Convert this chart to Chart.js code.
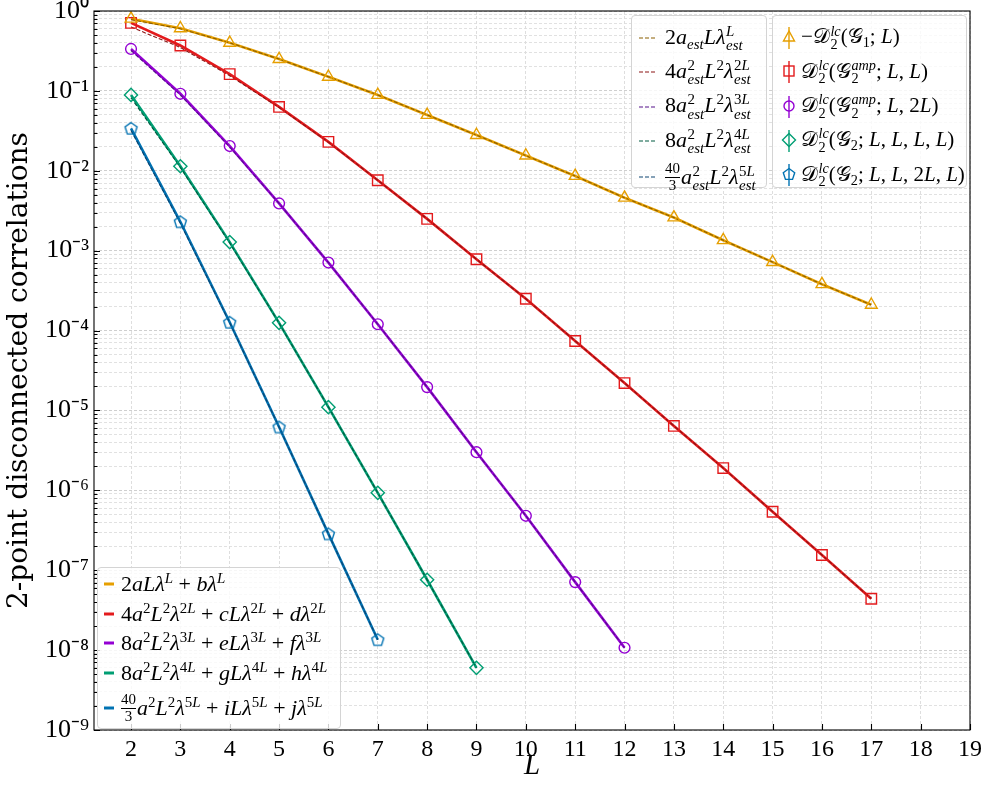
<!DOCTYPE html>
<html><head><meta charset="utf-8">
<script src="https://cdn.jsdelivr.net/npm/chart.js@4.4.0/dist/chart.umd.min.js"></script>
<style>
html,body{margin:0;padding:0;background:#fff;}
#wrap{position:relative;width:982px;height:787px;overflow:hidden;}
#c{position:absolute;left:0;top:0;}
.lg{position:absolute;background:rgba(255,255,255,0.8);border:1px solid #d4d4d4;border-radius:4px;box-sizing:border-box;font-family:'Liberation Serif','DejaVu Serif',serif;color:#000;font-size:22px;}
.lg.b{font-size:21px;}
.row{position:absolute;left:0;right:0;display:flex;align-items:center;white-space:nowrap;}
.hd{flex:none;display:inline-block;}
i{font-style:italic;}
.ss{display:inline-flex;flex-direction:column;font-size:0.68em;line-height:0.95;vertical-align:0.55em;margin-left:0.04em;}
.sp{font-size:0.68em;vertical-align:0.55em;line-height:0;}
.sb{font-size:0.68em;vertical-align:-0.3em;line-height:0;}
.fr{display:inline-flex;flex-direction:column;font-size:0.68em;line-height:1.05;vertical-align:0.72em;text-align:center;margin-right:1px;}
.fr span:first-child{border-bottom:1px solid #000;}
</style>
</head><body>
<div id="wrap"><canvas id="c" width="982" height="787"></canvas></div>
<script>
// ---------------- data ----------------
const L_G1    = [2,3,4,5,6,7,8,9,10,11,12,13,14,15,16,17];
const val_G1  = [0.80,0.607,0.40,0.25,0.15,0.089,0.050,0.028,0.0155,0.0086,0.0046,0.0026,0.00135,0.00072,0.00038,0.00021];
const est_G1  = [0.78,0.60,0.40,0.25,0.15,0.089,0.050,0.028,0.0155,0.0086,0.0046,0.0026,0.00135,0.00072,0.00038,0.00021];

const L_amp   = [2,3,4,5,6,7,8,9,10,11,12,13,14,15,16,17];
const val_amp = [0.71,0.37,0.162,0.063,0.023,0.0076,0.0025,0.00078,0.00025,7.4e-5,2.2e-5,6.4e-6,1.9e-6,5.4e-7,1.55e-7,4.4e-8];
const est_amp = [0.63,0.35,0.155,0.062,0.0228,0.0076,0.0025,0.00078,0.00025,7.4e-5,2.2e-5,6.4e-6,1.9e-6,5.4e-7,1.55e-7,4.4e-8];

const L_amp2   = [2,3,4,5,6,7,8,9,10,11,12];
const val_amp2 = [0.335,0.092,0.0204,0.0039,7.1e-4,1.2e-4,1.96e-5,3.0e-6,4.8e-7,7.1e-8,1.07e-8];
const est_amp2 = [0.32,0.089,0.0198,0.0039,7.1e-4,1.2e-4,1.96e-5,3.0e-6,4.8e-7,7.1e-8,1.07e-8];

const L_g4   = [2,3,4,5,6,7,8,9];
const val_g4 = [0.089,0.0114,0.00128,1.25e-4,1.1e-5,9.3e-7,7.6e-8,6.0e-9];
const est_g4 = [0.082,0.0110,0.00125,1.24e-4,1.1e-5,9.3e-7,7.6e-8,6.0e-9];

const L_g5   = [2,3,4,5,6,7];
const val_g5 = [0.034,0.0023,1.27e-4,6.2e-6,2.85e-7,1.35e-8];
const est_g5 = [0.032,0.0022,1.25e-4,6.2e-6,2.85e-7,1.35e-8];

const xTickValues = [2,3,4,5,6,7,8,9,10,11,12,13,14,15,16,17,18,19];
const yTickLabels = ['10⁰','10⁻¹','10⁻²','10⁻³','10⁻⁴','10⁻⁵','10⁻⁶','10⁻⁷','10⁻⁸','10⁻⁹'];
const yTitle = '2-point disconnected correlations';
const xTitle = 'L';

const seriesColors = ['#E69F00','#E31A1C','#9400D3','#009E73','#0072B2'];
const estColors    = ['#8a5e00','#8b1515','#55108a','#005a40','#0d4470'];

// legend labels
const CD='𝒟', CG='𝒢';
const I=s=>'<i>'+s+'</i>';
const ss=(a,b)=>'<span class="ss"><span>'+a+'</span><span>'+b+'</span></span>';
const sp=a=>'<span class="sp">'+a+'</span>';
const sb=a=>'<span class="sb">'+a+'</span>';
const fr=(a,b)=>'<span class="fr"><span>'+a+'</span><span>'+b+'</span></span>';
const est=I('est');
const estLabels = [
  '2'+I('a')+sb(est)+I('L')+I('λ')+ss(I('L'),est),
  '4'+I('a')+ss('2',est)+I('L')+sp('2')+I('λ')+ss('2'+I('L'),est),
  '8'+I('a')+ss('2',est)+I('L')+sp('2')+I('λ')+ss('3'+I('L'),est),
  '8'+I('a')+ss('2',est)+I('L')+sp('2')+I('λ')+ss('4'+I('L'),est),
  fr('40','3')+I('a')+ss('2',est)+I('L')+sp('2')+I('λ')+ss('5'+I('L'),est)
];
const markerLabels = [
  '−'+CD+ss(I('lc'),'2')+'('+CG+sb('1')+'; '+I('L')+')',
  CD+ss(I('lc'),'2')+'('+CG+ss(I('amp'),'2')+'; '+I('L')+', '+I('L')+')',
  CD+ss(I('lc'),'2')+'('+CG+ss(I('amp'),'2')+'; '+I('L')+', 2'+I('L')+')',
  CD+ss(I('lc'),'2')+'('+CG+sb('2')+'; '+I('L')+', '+I('L')+', '+I('L')+', '+I('L')+')',
  CD+ss(I('lc'),'2')+'('+CG+sb('2')+'; '+I('L')+', '+I('L')+', 2'+I('L')+', '+I('L')+')'
];
const fitLabels = [
  '2'+I('aL')+I('λ')+sp(I('L'))+' + '+I('b')+I('λ')+sp(I('L')),
  '4'+I('a')+sp('2')+I('L')+sp('2')+I('λ')+sp('2'+I('L'))+' + '+I('cL')+I('λ')+sp('2'+I('L'))+' + '+I('d')+I('λ')+sp('2'+I('L')),
  '8'+I('a')+sp('2')+I('L')+sp('2')+I('λ')+sp('3'+I('L'))+' + '+I('eL')+I('λ')+sp('3'+I('L'))+' + '+I('f')+I('λ')+sp('3'+I('L')),
  '8'+I('a')+sp('2')+I('L')+sp('2')+I('λ')+sp('4'+I('L'))+' + '+I('gL')+I('λ')+sp('4'+I('L'))+' + '+I('h')+I('λ')+sp('4'+I('L')),
  fr('40','3')+I('a')+sp('2')+I('L')+sp('2')+I('λ')+sp('5'+I('L'))+' + '+I('iL')+I('λ')+sp('5'+I('L'))+' + '+I('j')+I('λ')+sp('5'+I('L'))
];

// ---------------- marker shapes ----------------
function pentagon(color, r){
  const s = Math.ceil(r*2+4), c = document.createElement('canvas');
  c.width = s; c.height = s;
  const g = c.getContext('2d'); g.strokeStyle = color; g.lineWidth = 1.4;
  g.beginPath();
  for(let k=0;k<5;k++){const a=-Math.PI/2+k*2*Math.PI/5; const px=s/2+r*Math.cos(a), py=s/2+r*Math.sin(a)+0.5; k?g.lineTo(px,py):g.moveTo(px,py);}
  g.closePath(); g.stroke();
  return c;
}
const pointStyles = ['triangle','rect','circle','rectRot', pentagon(seriesColors[4],6.3)];
const pointRadii  = [6.8,7.4,5.4,6.6,6.3];

const xs=(L,v)=>L.map((l,i)=>({x:l,y:v[i]}));
const groups = [[L_G1,val_G1,est_G1],[L_amp,val_amp,est_amp],[L_amp2,val_amp2,est_amp2],[L_g4,val_g4,est_g4],[L_g5,val_g5,est_g5]];
const datasets = [];
groups.forEach((g,k)=>{
  datasets.push({label:'pts'+k,data:xs(g[0],g[1]),showLine:false,pointStyle:pointStyles[k],pointRadius:pointRadii[k],
    pointBorderColor:seriesColors[k],pointBackgroundColor:'rgba(0,0,0,0)',pointBorderWidth:1.4,borderColor:seriesColors[k],order:0});
  datasets.push({label:'est'+k,data:xs(g[0],g[2]),showLine:true,pointRadius:0,borderColor:estColors[k],borderWidth:1.1,
    borderDash:[4,2],fill:false,tension:0,order:1});
  datasets.push({label:'fit'+k,data:xs(g[0],g[1]),showLine:true,pointRadius:0,borderColor:seriesColors[k],borderWidth:2.6,
    fill:false,tension:0,order:2});
});

const framePlugin = {
  id:'frame',
  afterDatasetsDraw(chart){
    const {ctx, chartArea:a, scales:{x,y}} = chart;
    ctx.save();
    ctx.strokeStyle='#000'; ctx.lineWidth=1.1;
    ctx.beginPath();
    y.ticks.forEach(t=>{const py=Math.round(y.getPixelForValue(t.value))+0.5; const len=t.major?6:3.5; ctx.moveTo(a.left,py); ctx.lineTo(a.left+len,py);});
    x.ticks.forEach(t=>{const px=Math.round(x.getPixelForValue(t.value))+0.5; ctx.moveTo(px,a.bottom); ctx.lineTo(px,a.bottom-6);});
    ctx.stroke();
    ctx.strokeRect(a.left, a.top, a.right-a.left, a.bottom-a.top);
    ctx.restore();
  }
};

const gridColor = c => (c.tick && c.tick.major) ? '#c9c9c9' : '#dedede';
const chart = new Chart(document.getElementById('c'), {
  type:'scatter',
  data:{datasets},
  options:{
    responsive:false, animation:false, devicePixelRatio:1,
    layout:{padding:{left:0,right:12,top:11,bottom:0}},
    plugins:{legend:{display:false},tooltip:{enabled:false}},
    scales:{
      x:{type:'linear',min:1.25,max:19,
        afterBuildTicks:s=>{s.ticks=xTickValues.map(v=>({value:v}));},
        afterFit:s=>{s.height=57;s.paddingLeft=0;s.paddingRight=0;},
        ticks:{autoSkip:false,maxRotation:0,padding:5,color:'#000',font:{family:'Liberation Serif',size:24},callback:v=>String(v)},
        grid:{color:'#dadada',lineWidth:0.9,drawTicks:false},
        border:{display:false,dash:[3,2]},
        title:{display:true,text:xTitle,color:'#000',font:{family:'Liberation Serif',size:29,style:'italic'},padding:{top:0,bottom:3}}
      },
      y:{type:'logarithmic',min:1e-9,max:1,
        afterBuildTicks:s=>{const t=[];for(let e=-9;e<=0;e++){for(let m=1;m<=9;m++){const v=m*Math.pow(10,e);if(v>1.0000001)break;t.push({value:v,major:m===1});}}s.ticks=t;},
        afterFit:s=>{s.width=94;s.paddingTop=0;s.paddingBottom=0;},
        ticks:{autoSkip:false,padding:5,color:'#000',font:{family:'Liberation Serif',size:26,lineHeight:1},
          callback:(v,i,t)=>t[i].major?yTickLabels[-Math.round(Math.log10(v))]:''},
        grid:{color:gridColor,lineWidth:0.9,drawTicks:false},
        border:{display:false,dash:[3,2]},
        title:{display:true,text:yTitle,color:'#000',font:{family:'DejaVu Serif',size:28,lineHeight:1.2},padding:{top:3,bottom:0}}
      }
    }
  },
  plugins:[framePlugin]
});

// ---------------- HTML legends ----------------
const wrap=document.getElementById('wrap');
function box(left,top,w,h,cls){const d=document.createElement('div');d.className='lg'+(cls?' '+cls:'');Object.assign(d.style,{left:left+'px',top:top+'px',width:w+'px',height:h+'px'});wrap.appendChild(d);return d;}
function row(parent,center,h,handleHTML,labelHTML,padL){
  const r=document.createElement('div');r.className='row';
  Object.assign(r.style,{top:(center-h/2)+'px',height:h+'px',paddingLeft:padL+'px'});
  r.innerHTML=handleHTML+'<span>'+labelHTML+'</span>';parent.appendChild(r);
}
function dashHandle(color){return '<svg class="hd" width="22" height="10" style="margin-right:5px"><line x1="1" y1="5" x2="19" y2="5" stroke="'+color+'" stroke-width="1.1" stroke-dasharray="4,2"/></svg>';}
function lineHandle(color){return '<svg class="hd" width="14" height="10" style="margin-right:4px"><line x1="1" y1="5" x2="11" y2="5" stroke="'+color+'" stroke-width="3"/></svg>';}
function markerHandle(k){
  const c=seriesColors[k];let shape='';
  if(k===0) shape='<polygon points="8,6 2.5,16 13.5,16" fill="none" stroke="'+c+'" stroke-width="1.4"/>';
  if(k===1) shape='<rect x="3" y="7" width="10" height="10" fill="none" stroke="'+c+'" stroke-width="1.4"/>';
  if(k===2) shape='<circle cx="8" cy="12" r="5" fill="none" stroke="'+c+'" stroke-width="1.4"/>';
  if(k===3) shape='<polygon points="8,5.5 14.5,12 8,18.5 1.5,12" fill="none" stroke="'+c+'" stroke-width="1.4"/>';
  if(k===4){let p=[];for(let j=0;j<5;j++){const a=-Math.PI/2+j*2*Math.PI/5;p.push((8+6*Math.cos(a)).toFixed(2)+','+(12.5+6*Math.sin(a)).toFixed(2));}shape='<polygon points="'+p.join(' ')+'" fill="none" stroke="'+c+'" stroke-width="1.4"/>';}
  return '<svg class="hd" width="17" height="26" style="margin-right:3px"><line x1="8" y1="2" x2="8" y2="24" stroke="'+c+'" stroke-width="1.4"/>'+shape+'</svg>';
}
const bA=box(631,15,136,173), bB=box(772,15,195,173,'b'), bC=box(97,567,244,162);
estLabels.forEach((t,k)=>row(bA,22+k*34.3+(k===4?2:0),34,dashHandle(estColors[k]),t,6));
markerLabels.forEach((t,k)=>row(bB,22+k*34.3,34,markerHandle(k),t,8));
fitLabels.forEach((t,k)=>row(bC,16+k*29.6+(k===4?6:0),30,lineHandle(seriesColors[k]),t,5));
</script>
</body></html>
